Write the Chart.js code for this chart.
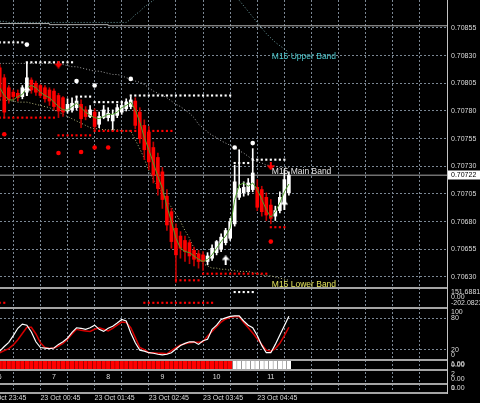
<!DOCTYPE html>
<html>
<head>
<meta charset="utf-8">
<title>AUDUSD,M5</title>
<script src="https://cdn.jsdelivr.net/npm/chart.js@4.4.1/dist/chart.umd.min.js"></script>
<style>
  html, body { margin: 0; padding: 0; background: #000; overflow: hidden; }
  canvas { display: block; }
</style>
</head>
<body>
<canvas id="chart" width="480" height="403"></canvas>
<script>
const _ = null;

// 5-minute bars, index 0 = 00:00
const open = [0.70819,0.70810,0.70801,0.70797,0.70796,0.70793,0.70797,0.70808,0.70805,0.70803,
  0.70801,0.70799,0.70798,0.70794,0.70792,0.70780,0.70781,0.70783,0.70786,0.70781,
  0.70775,0.70779,0.70768,0.70774,0.70774,0.70771,0.70776,0.70779,0.70782,0.70784,
  0.70789,0.70779,0.70767,0.70761,0.70747,0.70738,0.70725,0.70703,0.70689,0.70674,
  0.70667,0.70663,0.70661,0.70654,0.70651,0.70650,0.70644,0.70647,0.70652,0.70655,
  0.70661,0.70665,0.70678,0.70702,0.70706,0.70707,0.70709,0.70711,0.70709,0.70702,
  0.70695,0.70685,0.70690,0.70697,0.70706];
const high = [0.70822,0.70813,0.70803,0.70799,0.70799,0.70803,0.70824,0.70810,0.70807,0.70804,
  0.70803,0.70801,0.70800,0.70796,0.70793,0.70791,0.70792,0.70793,0.70790,0.70784,
  0.70785,0.70782,0.70779,0.70785,0.70783,0.70781,0.70786,0.70789,0.70791,0.70793,
  0.70792,0.70783,0.70772,0.70766,0.70752,0.70742,0.70729,0.70709,0.70692,0.70678,
  0.70671,0.70667,0.70663,0.70657,0.70654,0.70653,0.70652,0.70659,0.70663,0.70669,
  0.70674,0.70683,0.70731,0.70745,0.70716,0.70719,0.70746,0.70718,0.70712,0.70706,
  0.70700,0.70694,0.70707,0.70727,0.70725];
const low = [0.70790,0.70774,0.70787,0.70790,0.70789,0.70791,0.70794,0.70796,0.70794,0.70792,
  0.70788,0.70785,0.70781,0.70774,0.70775,0.70778,0.70779,0.70781,0.70765,0.70772,
  0.70774,0.70763,0.70765,0.70773,0.70771,0.70762,0.70774,0.70777,0.70780,0.70782,
  0.70764,0.70751,0.70736,0.70727,0.70715,0.70704,0.70692,0.70672,0.70656,0.70625,
  0.70647,0.70644,0.70642,0.70640,0.70638,0.70636,0.70641,0.70645,0.70650,0.70653,
  0.70659,0.70663,0.70676,0.70700,0.70703,0.70704,0.70707,0.70690,0.70685,0.70681,
  0.70678,0.70681,0.70688,0.70695,0.70704];
const close = [0.70793,0.70779,0.70790,0.70793,0.70792,0.70801,0.70810,0.70799,0.70797,0.70794,
  0.70791,0.70789,0.70784,0.70780,0.70779,0.70786,0.70787,0.70789,0.70773,0.70775,
  0.70781,0.70766,0.70775,0.70781,0.70778,0.70777,0.70783,0.70785,0.70788,0.70790,
  0.70767,0.70755,0.70745,0.70734,0.70722,0.70710,0.70700,0.70677,0.70662,0.70650,
  0.70656,0.70653,0.70649,0.70646,0.70644,0.70644,0.70649,0.70656,0.70662,0.70666,
  0.70672,0.70680,0.70716,0.70710,0.70711,0.70715,0.70724,0.70693,0.70689,0.70686,
  0.70683,0.70690,0.70702,0.70718,0.70722];

// fast moving average
const fastMA = [0.70801,0.70794,0.70790,0.70790,0.70793,0.70795,0.70801,0.70803,0.70801,0.70797,
  0.70794,0.70792,0.70788,0.70784,0.70781,0.70781,0.70784,0.70787,0.70783,0.70779,
  0.70776,0.70774,0.70773,0.70775,0.70777,0.70777,0.70779,0.70783,0.70785,0.70788,
  0.70781,0.70770,0.70756,0.70745,0.70733,0.70721,0.70710,0.70694,0.70680,0.70665,
  0.70656,0.70653,0.70652,0.70649,0.70646,0.70644,0.70646,0.70650,0.70656,0.70662,
  0.70667,0.70674,0.70700,0.70713,0.70715,0.70712,0.70715,0.70709,0.70700,0.70691,
  0.70684,0.70689,0.70697,0.70707,0.70714];

// M15 Bollinger bands
const bandUpper = [0.70861,0.70861,0.70860,0.70860,0.70860,0.70860,0.70860,0.70860,0.70860,0.70860,
  0.70860,0.70860,0.70860,0.70860,0.70860,0.70860,0.70860,0.70860,0.70860,0.70860,
  0.70860,0.70860,0.70860,0.70860,0.70860,0.70860,0.70860,0.70860,0.70860,0.70863,
  0.70867,0.70870,0.70874,0.70877,0.70880,0.70884,0.70888,0.70892,0.70895,0.70898,
  0.70900,0.70902,0.70903,0.70903,0.70902,0.70901,0.70899,0.70897,0.70895,0.70893,
  0.70891,0.70888,0.70884,0.70880,0.70875,0.70870,0.70865,0.70860,0.70855,0.70850,
  0.70846,0.70842,0.70839,0.70836,0.70833];
const bandMain = [0.70823,0.70823,0.70823,0.70823,0.70823,0.70823,0.70823,0.70823,0.70823,0.70823,
  0.70823,0.70823,0.70823,0.70823,0.70822,0.70821,0.70820,0.70820,0.70819,0.70818,
  0.70817,0.70816,0.70816,0.70815,0.70814,0.70813,0.70813,0.70812,0.70810,0.70809,
  0.70807,0.70806,0.70804,0.70801,0.70798,0.70796,0.70794,0.70792,0.70789,0.70786,
  0.70784,0.70781,0.70778,0.70774,0.70768,0.70765,0.70761,0.70758,0.70756,0.70753,
  0.70751,0.70749,0.70747,0.70744,0.70742,0.70739,0.70736,0.70734,0.70733,0.70731,
  0.70731,0.70730,0.70729,0.70729,0.70729];
const bandLower = [0.70790,0.70790,0.70789,0.70789,0.70788,0.70788,0.70788,0.70787,0.70786,0.70785,
  0.70784,0.70783,0.70781,0.70779,0.70777,0.70775,0.70773,0.70771,0.70769,0.70767,
  0.70765,0.70764,0.70764,0.70763,0.70763,0.70763,0.70763,0.70762,0.70762,0.70762,
  0.70754,0.70746,0.70737,0.70726,0.70718,0.70712,0.70706,0.70699,0.70693,0.70687,
  0.70680,0.70672,0.70665,0.70656,0.70647,0.70642,0.70640,0.70638,0.70638,0.70637,
  0.70637,0.70636,0.70636,0.70635,0.70635,0.70635,0.70634,0.70633,0.70632,0.70631,
  0.70631,0.70630,0.70629,0.70628,0.70627];

// stepped resistance / support levels, one dot per bar
const resistance = [0.70842,0.70842,0.70842,0.70842,0.70842,0.70842,0.70824,0.70824,0.70824,0.70824,
  0.70824,0.70824,0.70824,0.70824,0.70824,0.70824,0.70824,0.70793,0.70793,0.70793,
  0.70793,0.70788,0.70788,0.70788,0.70788,0.70788,0.70788,0.70788,0.70788,0.70794,
  0.70794,0.70794,0.70794,0.70794,0.70794,0.70794,0.70794,0.70794,0.70794,0.70794,
  0.70794,0.70794,0.70794,0.70794,0.70794,0.70794,0.70794,0.70794,0.70794,0.70794,
  0.70794,0.70794,0.70733,0.70733,0.70733,0.70733,0.70736,0.70736,0.70736,0.70736,
  0.70736,0.70736,0.70736,0.70736,_];
const support = [0.70774,0.70774,0.70774,0.70774,0.70774,0.70774,0.70774,0.70774,0.70774,0.70774,
  0.70774,0.70774,0.70774,0.70758,0.70758,0.70758,0.70758,0.70758,0.70758,0.70758,
  0.70758,0.70762,0.70762,0.70762,0.70762,0.70762,0.70762,0.70762,0.70762,0.70762,
  0.70762,0.70762,0.70762,0.70762,0.70762,0.70762,0.70762,0.70762,0.70762,0.70627,
  0.70627,0.70627,0.70627,0.70627,0.70627,0.70633,0.70633,0.70633,0.70633,0.70633,
  0.70633,0.70633,0.70633,0.70633,0.70633,0.70633,0.70633,0.70633,0.70633,0.70633,
  0.70675,0.70675,0.70675,0.70675,_];

// fractal points and signal arrows
const swingHighBars = [6, 17, 21, 29, 52, 56];
const swingHighs = [0.70840, 0.70807, 0.70803, 0.70809, 0.70747, 0.70751];
const swingLowBars = [1, 13, 18, 21, 24, 60];
const swingLows = [0.70759, 0.70742, 0.70743, 0.70747, 0.70747, 0.70662];
const buyArrowBars = [6, 50, 63];
const buyArrowPrices = [0.70798, 0.70645, 0.70695];
const sellArrowBars = [13, 60];
const sellArrowPrices = [0.70822, 0.70730];

// slow average from the higher timeframe (stepped)
const slowMABars = [0, 11, 24, 79, 99];
const slowMA = [0.70860, 0.70859, 0.70858, 0.70857, 0.70857];

// pane 1 signal dots
const pane1UpBars = [52, 53, 54, 55, 56];
const pane1Up = [80, 80, 80, 80, 80];
const pane1DownBars = [0, 1, 32, 33, 34, 35, 36, 37, 38, 39, 40, 41, 42, 43, 44, 45, 46, 47];
const pane1Down = [-110, -110, -110, -110, -110, -110, -110, -110, -110, -110, -110, -110, -110, -110, -110, -110, -110, -110];

// stochastic oscillator
const stochMain = [17,26,34,47,61,69,67,54,35,24, 23,22,23,30,35,42,53,62,61,59,
  62,67,59,55,61,65,71,78,75,52, 33,19,17,14,13,11,10,11,14,21,
  28,32,35,35,30,37,40,59,67,78, 81,84,85,85,75,67,62,47,28,14, 14,30,48,66,84];
const stochSignal = [14,18,22,29,39,51,63,63,50,33, 24,22,23,27,32,40,50,59,57,56,
  55,59,62,59,56,61,67,73,72,62, 43,24,20,14,14,13,13,12,18,24,
  29,31,33,34,34,35,46,55,64,73, 79,82,83,83,72,62,52,41,30,19, 17,22,32,47,63];

// trend histogram: -1 down, 1 up
const trendState = [-1,-1,-1,-1,-1,-1,-1,-1,-1,-1, -1,-1,-1,-1,-1,-1,-1,-1,-1,-1,
  -1,-1,-1,-1,-1,-1,-1,-1,-1,-1, -1,-1,-1,-1,-1,-1,-1,-1,-1,-1,
  -1,-1,-1,-1,-1,-1,-1,-1,-1,-1, -1,-1,1,1,1,1,1,1,1,1, 1,1,1,1,1];

// axes
const priceTicks = [0.70855, 0.70830, 0.70805, 0.70780, 0.70755, 0.70730, 0.70705, 0.70680, 0.70655, 0.70630];
const timeTickBars = [-3, 3, 9, 15, 21, 27, 33, 39, 45, 51, 57, 63, 69, 75, 81, 87, 93];
const timeTickLabels = ['22 Oct 23:45', '', '23 Oct 00:45', '', '23 Oct 01:45', '', '23 Oct 02:45', '',
  '23 Oct 03:45', '', '23 Oct 04:45', '', '', '', '', '', ''];
const hourMarkBars = [0, 12, 24, 36, 48, 60];
const hourMarks = ['6', '7', '8', '9', '10', '11'];
const bandCaptionBar = 60;
const paneScales = {
  p1: [[151.6881, '151.6881'], [0, '0.00'], [-202.0823, '-202.0823']],
  p2: [[100, '100'], [80, '80'], [20, '20'], [0, '0']],
  p3: [[1, '1.00'], [0, '0.00']],
  p4: [[2, '2'], [0, '0.00']],
  p5: [[1, '1'], [0, '0.00']]
};

const FONT = 'Liberation Sans';
const TEXT = '#dcdcdc';
const GRID = '#7b8794';
const bars = open.map((v, i) => i);
const isUp = i => close[i] >= open[i];
const lastClose = close[close.length - 1];

function arrowSprite(color, up) {
  const c = document.createElement('canvas');
  c.width = 8; c.height = up ? 10 : 8;
  const g = c.getContext('2d');
  g.fillStyle = color;
  g.beginPath();
  if (up) {
    g.moveTo(4, 0); g.lineTo(8, 4.5); g.lineTo(5, 4.5); g.lineTo(5, 10);
    g.lineTo(3, 10); g.lineTo(3, 4.5); g.lineTo(0, 4.5);
  } else {
    g.moveTo(3, 0); g.lineTo(5, 0); g.lineTo(5, 3); g.lineTo(8, 3);
    g.lineTo(4, 8); g.lineTo(0, 3); g.lineTo(3, 3);
  }
  g.closePath();
  g.fill();
  return c;
}

const series = arr => bars.filter(i => arr[i] !== null).map(i => ({ x: i, y: arr[i] }));
const pairs = (xs, ys) => xs.map((x, k) => ({ x, y: ys[k] }));

const noPad = s => { s.paddingTop = 0; s.paddingBottom = 0; s.paddingLeft = 0; s.paddingRight = 0; };
function pane(weight, order, min, max, extra) {
  return Object.assign({
    type: 'linear', position: 'right', stack: 'panes', stackWeight: weight, weight: order,
    min, max, bounds: 'data',
    grid: { display: false, drawTicks: false },
    border: { display: true, color: '#c4c4c4', width: 1, dash: [2, 2] },
    ticks: { display: false },
    afterFit: s => { s.width = 33; noPad(s); }
  }, extra || {});
}

const paneDecor = {
  id: 'paneDecor',
  afterDatasetsDraw(chart) {
    const { ctx, chartArea: a, scales: s } = chart;
    ctx.save();
    // pane separators
    ctx.fillStyle = '#a4a4a4';
    ['p1', 'p2', 'p3', 'p4', 'p5'].forEach(id => {
      ctx.fillRect(a.left, Math.round(s[id].top) - 1, a.right - a.left, 2);
    });
    ctx.fillRect(a.left, Math.round(s.p5.bottom) - 1, a.right - a.left, 2);

    // band captions
    ctx.font = '8.5px "' + FONT + '"';
    ctx.textAlign = 'left';
    ctx.textBaseline = 'top';
    const bx = s.x.getPixelForValue(bandCaptionBar) + 1;
    [[bandUpper, 'M15 Upper Band', '#4ec6cc'],
     [bandMain, 'M15 Main Band', '#e6e6e6'],
     [bandLower, 'M15 Lower Band', '#e4e45c']].forEach(([arr, text, color]) => {
      ctx.fillStyle = color;
      ctx.fillText(text, bx, s.y.getPixelForValue(arr[arr.length - 1]));
    });

    // hour numbers
    ctx.font = '7px "' + FONT + '"';
    ctx.textAlign = 'center';
    ctx.textBaseline = 'middle';
    ctx.fillStyle = TEXT;
    const hy = (s.p4.top + s.p4.bottom) / 2;
    hourMarkBars.forEach((b, k) => ctx.fillText(hourMarks[k], s.x.getPixelForValue(b), hy));
    ctx.restore();
  },
  afterDraw(chart) {
    const { ctx, chartArea: a, scales: s } = chart;
    ctx.save();
    ctx.font = '7px "' + FONT + '"';
    ctx.textAlign = 'left';
    ctx.textBaseline = 'middle';
    ctx.fillStyle = TEXT;
    Object.keys(paneScales).forEach(id => {
      const sc = s[id];
      paneScales[id].forEach(([v, text]) => {
        let y = sc.getPixelForValue(v);
        y = Math.min(Math.max(y, sc.top + 4.5), sc.bottom - 4.5);
        ctx.fillText(text, a.right + 4, y);
      });
    });
    // current price tag
    const py = s.y.getPixelForValue(lastClose);
    ctx.fillStyle = '#ffffff';
    ctx.fillRect(a.right + 1, Math.round(py) - 4.5, chart.width - a.right - 1, 9);
    ctx.fillStyle = '#000000';
    ctx.fillText(lastClose.toFixed(5), a.right + 4, py);
    ctx.restore();
  }
};

new Chart(document.getElementById('chart'), {
  type: 'bar',
  data: {
    datasets: [
      { type: 'line', label: 'M15 Upper Band', data: series(bandUpper), borderColor: '#6e9fa2',
        borderWidth: 1, borderDash: [1, 2], pointRadius: 0, order: 30 },
      { type: 'line', label: 'M15 Main Band', data: series(bandMain), borderColor: '#a0a0a0',
        borderWidth: 1, borderDash: [1, 2], pointRadius: 0, order: 29 },
      { type: 'line', label: 'M15 Lower Band', data: series(bandLower), borderColor: '#b8b87e',
        borderWidth: 1, borderDash: [1, 2], pointRadius: 0, order: 28 },
      { type: 'line', label: 'Slow MA', data: pairs(slowMABars, slowMA), stepped: 'after',
        borderColor: '#b4b4b4', borderWidth: 1, pointRadius: 0, order: 27 },
      { type: 'line', label: 'Bid', data: [{ x: 0, y: lastClose }, { x: 99, y: lastClose }],
        borderColor: '#a8a8a8', borderWidth: 1, pointRadius: 0, order: 26 },
      { type: 'bar', label: 'Wicks', data: bars.map(i => ({ x: i, y: [low[i], high[i]] })),
        backgroundColor: bars.map(i => isUp(i) ? '#ffffff' : '#c00000'),
        barThickness: 1, grouped: false, order: 25 },
      { type: 'bar', label: 'Bodies', data: bars.map(i => ({ x: i, y: [open[i], close[i]] })),
        backgroundColor: bars.map(i => isUp(i) ? '#ffffff' : '#ff0000'),
        barThickness: 3, minBarLength: 1, grouped: false, order: 24 },
      { type: 'line', label: 'Fast MA', data: series(fastMA), borderColor: '#4e9e2a',
        borderWidth: 1, pointRadius: 0, order: 23 },
      { type: 'scatter', label: 'Resistance', data: series(resistance), pointStyle: 'rect',
        pointRadius: 1.5, pointBackgroundColor: '#ffffff', pointBorderWidth: 0, order: 22 },
      { type: 'scatter', label: 'Support', data: series(support), pointStyle: 'rect',
        pointRadius: 1.5, pointBackgroundColor: '#ff0000', pointBorderWidth: 0, order: 21 },
      { type: 'scatter', label: 'Swing highs', data: pairs(swingHighBars, swingHighs),
        pointRadius: 2.3, pointBackgroundColor: '#ffffff', pointBorderWidth: 0, order: 20 },
      { type: 'scatter', label: 'Swing lows', data: pairs(swingLowBars, swingLows),
        pointRadius: 2.3, pointBackgroundColor: '#ff0000', pointBorderWidth: 0, order: 19 },
      { type: 'scatter', label: 'Buy', data: pairs(buyArrowBars, buyArrowPrices),
        pointStyle: arrowSprite('#ffffff', true), pointRadius: 4, order: 18 },
      { type: 'scatter', label: 'Sell', data: pairs(sellArrowBars, sellArrowPrices),
        pointStyle: arrowSprite('#ff0000', false), pointRadius: 4, order: 17 },

      { type: 'scatter', label: 'Pane up', yAxisID: 'p1', data: pairs(pane1UpBars, pane1Up),
        pointStyle: 'rect', pointRadius: 1.5, pointBackgroundColor: '#ffffff', pointBorderWidth: 0, order: 10 },
      { type: 'scatter', label: 'Pane down', yAxisID: 'p1', data: pairs(pane1DownBars, pane1Down),
        pointStyle: 'rect', pointRadius: 1.5, pointBackgroundColor: '#ff0000', pointBorderWidth: 0, order: 10 },
      { type: 'line', label: 'Stoch signal', yAxisID: 'p2', data: series(stochSignal),
        borderColor: '#d40000', borderWidth: 1.5, pointRadius: 0, order: 9 },
      { type: 'line', label: 'Stoch main', yAxisID: 'p2', data: series(stochMain),
        borderColor: '#ffffff', borderWidth: 1.2, pointRadius: 0, order: 8 },
      { type: 'bar', label: 'Trend', yAxisID: 'p3', data: bars.map(i => ({ x: i, y: Math.abs(trendState[i]) })),
        backgroundColor: bars.map(i => trendState[i] > 0 ? '#ffffff' : '#ff0000'),
        barThickness: 3.6, grouped: false, order: 7 }
    ]
  },
  options: {
    responsive: false,
    devicePixelRatio: 1,
    animation: false,
    events: [],
    layout: { padding: 0, autoPadding: false },
    plugins: { legend: { display: false }, tooltip: { enabled: false } },
    scales: {
      x: {
        type: 'linear', position: 'bottom', min: 0.055, max: 99, offset: false, bounds: 'data',
        grid: { color: GRID, lineWidth: 1, drawTicks: false, offset: false },
        border: { display: false, dash: [2, 2] },
        ticks: { autoSkip: false, maxRotation: 0, minRotation: 0, align: 'start', padding: 1,
                 color: TEXT, font: { family: FONT, size: 7 },
                 callback: (v, i) => timeTickLabels[i] },
        afterBuildTicks: s => { s.ticks = timeTickBars.map(v => ({ value: v })); },
        afterFit: s => { s.height = 10; noPad(s); }
      },
      y: pane(288, 0, 0.7062006, 0.708803, {
        grid: { display: true, color: GRID, lineWidth: 1, drawTicks: false },
        ticks: { display: true, padding: 4, color: TEXT, font: { family: FONT, size: 7 },
                 callback: v => Number(v).toFixed(5) },
        afterBuildTicks: s => { s.ticks = priceTicks.map(v => ({ value: v })); }
      }),
      p1: pane(20, 1, -202.0823, 151.6881),
      p2: pane(52, 2, 0, 100, {
        grid: { display: true, color: GRID, lineWidth: 1, drawTicks: false },
        afterBuildTicks: s => { s.ticks = [{ value: 80 }, { value: 20 }]; }
      }),
      p3: pane(10, 3, 0, 1),
      p4: pane(14, 4, 0, 2),
      p5: pane(9, 5, 0, 1)
    }
  },
  plugins: [paneDecor]
});
</script>
</body>
</html>
